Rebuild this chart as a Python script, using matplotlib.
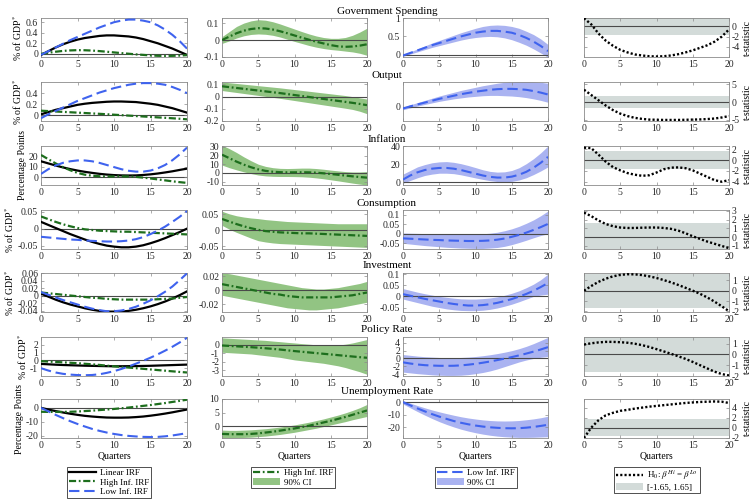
import matplotlib
matplotlib.use("Agg")
import matplotlib.pyplot as plt
from matplotlib.lines import Line2D
from matplotlib.patches import Patch
import numpy as np

plt.rcParams['font.family'] = ['Liberation Serif', 'DejaVu Serif']
plt.rcParams['mathtext.fontset'] = 'stix'
plt.rcParams['axes.unicode_minus'] = False

quarters = list(range(21))
titles = ["Government Spending", "Output", "Inflation", "Consumption",
          "Investment", "Policy Rate", "Unemployment Rate"]
ylabels = ["% of GDP$^*$", "% of GDP$^*$", "Percentage Points", "% of GDP$^*$",
           "% of GDP$^*$", "% of GDP$^*$", "Percentage Points"]

# ---- Government spending
gov_lin = [-0.02, 0.05, 0.12, 0.18, 0.23, 0.27, 0.30, 0.32, 0.34, 0.35, 0.35, 0.34, 0.33, 0.31, 0.28, 0.24, 0.20, 0.15, 0.10, 0.04, -0.02]
gov_hi = [0.00, 0.02, 0.04, 0.055, 0.065, 0.07, 0.068, 0.062, 0.052, 0.04, 0.027, 0.014, 0.002, -0.01, -0.02, -0.03, -0.037, -0.04, -0.038, -0.033, -0.025]
gov_hi_lo = [-0.02, -0.005, 0.012, 0.025, 0.033, 0.036, 0.034, 0.028, 0.018, 0.005, -0.008, -0.02, -0.032, -0.042, -0.05, -0.056, -0.06, -0.065, -0.07, -0.078, -0.09]
gov_hi_up = [0.02, 0.05, 0.08, 0.1, 0.113, 0.12, 0.117, 0.108, 0.095, 0.08, 0.065, 0.05, 0.036, 0.024, 0.015, 0.01, 0.01, 0.015, 0.028, 0.047, 0.07]
gov_lo = [-0.02, 0.05, 0.12, 0.19, 0.26, 0.32, 0.38, 0.44, 0.5, 0.55, 0.6, 0.63, 0.65, 0.65, 0.63, 0.6, 0.54, 0.46, 0.36, 0.24, 0.1]
gov_lo_lo = [-0.04, 0.02, 0.08, 0.14, 0.2, 0.25, 0.3, 0.35, 0.4, 0.44, 0.47, 0.49, 0.5, 0.49, 0.46, 0.41, 0.34, 0.26, 0.16, 0.05, -0.07]
gov_lo_up = [0.0, 0.08, 0.16, 0.24, 0.32, 0.39, 0.46, 0.53, 0.6, 0.66, 0.72, 0.77, 0.8, 0.81, 0.8, 0.77, 0.72, 0.64, 0.55, 0.43, 0.28]
gov_t = [1.6, 0.4, -1.4, -2.8, -3.8, -4.6, -5.1, -5.5, -5.7, -5.85, -5.9, -5.85, -5.7, -5.45, -5.1, -4.7, -4.2, -3.7, -3.0, -2.0, -0.6]

# ---- Output
out_lin = [0.02, 0.06, 0.1, 0.13, 0.16, 0.19, 0.21, 0.225, 0.235, 0.245, 0.25, 0.25, 0.245, 0.24, 0.225, 0.21, 0.19, 0.16, 0.13, 0.09, 0.05]
out_hi = [0.085, 0.078, 0.071, 0.064, 0.057, 0.05, 0.043, 0.036, 0.029, 0.021, 0.013, 0.005, -0.003, -0.011, -0.019, -0.027, -0.035, -0.043, -0.051, -0.06, -0.07]
out_hi_lo = [0.05, 0.042, 0.034, 0.026, 0.018, 0.01, 0.002, -0.006, -0.014, -0.023, -0.032, -0.041, -0.05, -0.059, -0.068, -0.077, -0.086, -0.095, -0.105, -0.12, -0.14]
out_hi_up = [0.12, 0.114, 0.108, 0.102, 0.096, 0.09, 0.084, 0.078, 0.072, 0.065, 0.058, 0.051, 0.044, 0.037, 0.03, 0.023, 0.016, 0.009, 0.0, -0.01, -0.02]
out_lo = [-0.05, 0.02, 0.08, 0.14, 0.2, 0.26, 0.31, 0.36, 0.41, 0.45, 0.49, 0.52, 0.55, 0.57, 0.58, 0.58, 0.57, 0.55, 0.51, 0.46, 0.4]
out_lo_lo = [-0.09, -0.03, 0.03, 0.08, 0.13, 0.18, 0.22, 0.26, 0.29, 0.32, 0.34, 0.36, 0.37, 0.37, 0.36, 0.35, 0.33, 0.3, 0.26, 0.21, 0.15]
out_lo_up = [-0.01, 0.07, 0.14, 0.21, 0.28, 0.35, 0.41, 0.47, 0.53, 0.58, 0.63, 0.68, 0.72, 0.76, 0.79, 0.81, 0.82, 0.82, 0.81, 0.79, 0.76]
out_t = [3.5, 2.0, 0.5, -1.0, -2.3, -3.3, -4.0, -4.5, -4.8, -5.0, -5.05, -5.1, -5.1, -5.1, -5.05, -5.0, -4.95, -4.85, -4.7, -4.4, -4.0]

# ---- Inflation
inf_lin = [15, 13, 11, 9.2, 7.6, 6.2, 5.0, 4.0, 3.1, 2.4, 1.9, 1.6, 1.5, 1.6, 2.0, 2.6, 3.4, 4.4, 5.5, 6.8, 8.0]
inf_hi = [21, 17, 13, 9.5, 6.5, 4.0, 2.3, 1.3, 0.8, 0.6, 0.6, 0.7, 0.6, 0.2, -0.5, -1.3, -2.2, -3.1, -4.0, -4.8, -5.5]
inf_hi_lo = [9, 6, 3.5, 1.2, -0.8, -2.5, -3.5, -4, -4.2, -4.2, -4.3, -4.5, -5, -5.8, -6.8, -8, -9.2, -10.5, -11.8, -13, -14]
inf_hi_up = [32, 28, 23.5, 18.5, 14, 10, 7.5, 6, 5.2, 5, 5.2, 5.5, 5.5, 5, 4.2, 3.2, 2.3, 1.5, 1.0, 1.0, 1.5]
inf_lo = [3, 7.5, 11, 13.5, 15, 15.8, 15.8, 15, 13.5, 11.5, 9.5, 7.5, 6, 5.2, 5.2, 6.2, 8.3, 11.5, 16, 21.5, 28]
inf_lo_lo = [-1, 2, 5, 7.5, 9, 10, 10, 9.5, 8.2, 6.5, 4.8, 3.2, 1.8, 0.8, 0.5, 1.0, 2.5, 5, 8.5, 12.5, 17]
inf_lo_up = [9, 13, 17, 19.5, 21.5, 22.5, 22.8, 22, 20.5, 18.5, 16.2, 13.8, 12, 11.2, 11.5, 13, 16, 20.5, 26, 32.5, 40]
inf_t = [2.3, 2.2, 1.0, -0.3, -1.3, -1.9, -2.4, -2.7, -2.9, -2.8, -2.3, -1.7, -1.4, -1.35, -1.5, -1.9, -2.5, -3.1, -3.7, -4.0, -3.7]

# ---- Consumption
con_lin = [0.02, 0.011, 0.002, -0.007, -0.016, -0.024, -0.032, -0.039, -0.045, -0.05, -0.053, -0.055, -0.055, -0.053, -0.049, -0.043, -0.036, -0.028, -0.019, -0.01, 0.0]
con_hi = [0.036, 0.028, 0.02, 0.013, 0.007, 0.002, -0.002, -0.004, -0.006, -0.007, -0.008, -0.009, -0.009, -0.01, -0.011, -0.012, -0.013, -0.014, -0.015, -0.016, -0.017]
con_hi_lo = [0.016, 0.004, -0.006, -0.015, -0.024, -0.032, -0.036, -0.039, -0.041, -0.042, -0.043, -0.044, -0.045, -0.046, -0.047, -0.048, -0.049, -0.05, -0.051, -0.052, -0.053]
con_hi_up = [0.06, 0.052, 0.046, 0.042, 0.039, 0.037, 0.034, 0.032, 0.03, 0.028, 0.027, 0.026, 0.025, 0.024, 0.023, 0.022, 0.021, 0.021, 0.021, 0.021, 0.021]
con_lo = [-0.024, -0.026, -0.028, -0.03, -0.032, -0.033, -0.035, -0.036, -0.037, -0.038, -0.038, -0.037, -0.035, -0.031, -0.025, -0.016, -0.006, 0.006, 0.02, 0.035, 0.052]
con_lo_lo = [-0.05, -0.054, -0.058, -0.062, -0.065, -0.068, -0.071, -0.073, -0.075, -0.076, -0.077, -0.077, -0.075, -0.072, -0.066, -0.057, -0.046, -0.034, -0.021, -0.009, 0.0]
con_lo_up = [0.004, 0.003, 0.002, 0.001, 0.0, -0.001, -0.002, -0.002, -0.002, -0.002, -0.001, 0.0, 0.003, 0.008, 0.016, 0.026, 0.039, 0.055, 0.073, 0.095, 0.12]
con_t = [2.8, 2.4, 1.9, 1.5, 1.25, 1.1, 1.05, 1.05, 1.08, 1.1, 1.1, 1.05, 0.95, 0.75, 0.45, 0.1, -0.2, -0.5, -0.75, -1.0, -1.25]

# ---- Investment
inv_lin = [0.006, -0.002, -0.01, -0.017, -0.023, -0.028, -0.033, -0.037, -0.04, -0.042, -0.042, -0.042, -0.04, -0.037, -0.033, -0.028, -0.022, -0.015, -0.007, 0.002, 0.012]
inv_hi = [0.009, 0.007, 0.005, 0.003, 0.001, -0.001, -0.003, -0.005, -0.006, -0.008, -0.009, -0.01, -0.01, -0.01, -0.01, -0.01, -0.009, -0.008, -0.007, -0.005, -0.003]
inv_hi_lo = [-0.007, -0.009, -0.011, -0.013, -0.015, -0.017, -0.019, -0.021, -0.023, -0.025, -0.026, -0.027, -0.028, -0.028, -0.027, -0.026, -0.025, -0.023, -0.021, -0.019, -0.017]
inv_hi_up = [0.025, 0.024, 0.022, 0.02, 0.018, 0.016, 0.014, 0.012, 0.01, 0.008, 0.006, 0.004, 0.003, 0.002, 0.002, 0.003, 0.004, 0.006, 0.008, 0.01, 0.013]
inv_lo = [0.01, 0.003, -0.004, -0.011, -0.017, -0.023, -0.029, -0.034, -0.038, -0.041, -0.041, -0.039, -0.035, -0.029, -0.021, -0.012, -0.001, 0.011, 0.025, 0.042, 0.06]
inv_lo_lo = [-0.012, -0.02, -0.028, -0.036, -0.044, -0.05, -0.056, -0.06, -0.063, -0.064, -0.064, -0.062, -0.058, -0.052, -0.044, -0.035, -0.024, -0.012, 0.0, 0.006, 0.01]
inv_lo_up = [0.035, 0.027, 0.019, 0.012, 0.006, 0.0, -0.004, -0.008, -0.011, -0.012, -0.012, -0.01, -0.007, -0.002, 0.005, 0.014, 0.025, 0.039, 0.055, 0.075, 0.1]
inv_t = [0.0, 0.45, 0.85, 1.15, 1.38, 1.52, 1.58, 1.57, 1.5, 1.38, 1.22, 1.02, 0.8, 0.55, 0.28, 0.0, -0.3, -0.65, -1.05, -1.5, -1.97]

# ---- Policy rate
pol_lin = [-0.45, -0.5, -0.55, -0.59, -0.62, -0.65, -0.68, -0.7, -0.72, -0.74, -0.75, -0.75, -0.74, -0.73, -0.71, -0.69, -0.66, -0.63, -0.6, -0.57, -0.54]
pol_hi = [-0.1, -0.15, -0.2, -0.25, -0.3, -0.36, -0.43, -0.5, -0.58, -0.67, -0.76, -0.84, -0.92, -1.0, -1.08, -1.16, -1.24, -1.32, -1.4, -1.48, -1.55]
pol_hi_lo = [-0.9, -0.95, -1.0, -1.05, -1.1, -1.2, -1.3, -1.4, -1.5, -1.65, -1.8, -1.9, -2.0, -2.1, -2.2, -2.35, -2.5, -2.7, -2.95, -3.2, -3.5]
pol_hi_up = [0.8, 0.75, 0.7, 0.65, 0.6, 0.55, 0.5, 0.42, 0.35, 0.27, 0.2, 0.12, 0.05, -0.02, -0.07, -0.08, -0.05, 0.05, 0.2, 0.4, 0.6]
pol_lo = [-1.0, -1.3, -1.55, -1.72, -1.82, -1.88, -1.9, -1.87, -1.78, -1.6, -1.38, -1.1, -0.78, -0.42, -0.05, 0.35, 0.78, 1.25, 1.75, 2.3, 2.9]
pol_lo_lo = [-3.5, -3.7, -3.9, -4.05, -4.2, -4.3, -4.35, -4.35, -4.3, -4.15, -3.9, -3.6, -3.2, -2.7, -2.1, -1.5, -0.9, -0.4, 0.0, 0.3, 0.5]
pol_lo_up = [1.0, 0.8, 0.6, 0.45, 0.35, 0.25, 0.2, 0.2, 0.25, 0.35, 0.5, 0.7, 0.95, 1.25, 1.6, 2.0, 2.5, 3.1, 3.8, 4.6, 5.4]
pol_t = [0.9, 1.02, 1.1, 1.15, 1.15, 1.12, 1.07, 0.98, 0.85, 0.68, 0.48, 0.27, 0.05, -0.18, -0.42, -0.7, -1.0, -1.3, -1.6, -1.82, -1.95]

# ---- Unemployment rate
une_lin = [0, -1.2, -2.3, -3.3, -4.2, -5.0, -5.7, -6.2, -6.6, -6.9, -7.0, -7.0, -6.9, -6.6, -6.2, -5.6, -4.9, -4.1, -3.2, -2.2, -1.2]
une_hi = [-2.8, -2.9, -2.9, -2.9, -2.8, -2.6, -2.3, -2.0, -1.6, -1.2, -0.8, -0.3, 0.2, 0.8, 1.4, 2.0, 2.7, 3.4, 4.2, 5.0, 5.8]
une_hi_lo = [-4.3, -4.3, -4.2, -4.1, -4.0, -3.8, -3.6, -3.3, -3.0, -2.6, -2.2, -1.7, -1.2, -0.7, -0.1, 0.5, 1.1, 1.7, 2.4, 3.0, 3.6]
une_hi_up = [-1.4, -1.5, -1.5, -1.4, -1.3, -1.1, -0.9, -0.6, -0.3, 0.1, 0.5, 1.0, 1.5, 2.1, 2.7, 3.4, 4.1, 4.9, 5.8, 6.8, 8.0]
une_lo = [0, -2.5, -5, -7.3, -9.5, -11.5, -13.3, -15, -16.4, -17.6, -18.6, -19.4, -20, -20.4, -20.7, -20.8, -20.7, -20.3, -19.7, -18.9, -18]
une_lo_lo = [-1.5, -4.5, -7.5, -10.3, -13, -15.5, -17.7, -19.7, -21.5, -23, -24.3, -25.4, -26.3, -27, -27.5, -27.8, -28, -28, -27.9, -27.7, -27.5]
une_lo_up = [1.2, -0.8, -2.7, -4.5, -6.2, -7.7, -9.1, -10.4, -11.6, -12.6, -13.4, -14.1, -14.6, -14.9, -15, -14.9, -14.6, -14, -13.3, -12.4, -11.2]
une_t = [-2.1, 0.0, 1.5, 2.5, 3.0, 3.4, 3.6, 3.85, 4.05, 4.25, 4.4, 4.55, 4.7, 4.85, 5.0, 5.1, 5.2, 5.25, 5.3, 5.25, 5.0]

rows = [
    (gov_lin, gov_hi, gov_hi_lo, gov_hi_up, gov_lo, gov_lo_lo, gov_lo_up, gov_t),
    (out_lin, out_hi, out_hi_lo, out_hi_up, out_lo, out_lo_lo, out_lo_up, out_t),
    (inf_lin, inf_hi, inf_hi_lo, inf_hi_up, inf_lo, inf_lo_lo, inf_lo_up, inf_t),
    (con_lin, con_hi, con_hi_lo, con_hi_up, con_lo, con_lo_lo, con_lo_up, con_t),
    (inv_lin, inv_hi, inv_hi_lo, inv_hi_up, inv_lo, inv_lo_lo, inv_lo_up, inv_t),
    (pol_lin, pol_hi, pol_hi_lo, pol_hi_up, pol_lo, pol_lo_lo, pol_lo_up, pol_t),
    (une_lin, une_hi, une_hi_lo, une_hi_up, une_lo, une_lo_lo, une_lo_up, une_t),
]

# axis limits / ticks per panel [row][col]
ylims = [
    [(-0.06, 0.68), (-0.1, 0.13), (-0.06, 1.0), (-6.0, 1.65)],
    [(-0.1, 0.6), (-0.2, 0.12), (-0.45, 0.8), (-5.4, 5.7)],
    [(-7.5, 29.5), (-14, 31), (-3, 40), (-4.6, 2.6)],
    [(-0.06, 0.055), (-0.058, 0.064), (-0.08, 0.125), (-1.35, 3.1)],
    [(-0.043, 0.061), (-0.031, 0.025), (-0.07, 0.105), (-2.05, 1.7)],
    [(-2.0, 3.0), (-3.7, 0.9), (-4.5, 5.5), (-2.0, 1.6)],
    [(-21.5, 6.3), (-4.3, 10), (-28.5, 2.5), (-2.1, 5.8)],
]
yticks = [
    [[0, 0.2, 0.4, 0.6], [-0.1, 0, 0.1], [0, 0.5, 1], [-4, -2, 0]],
    [[0, 0.2, 0.4], [-0.2, -0.1, 0, 0.1], [0], [-5, 0, 5]],
    [[0, 10, 20], [-10, 0, 10, 20, 30], [0, 20, 40], [-4, -2, 0, 2]],
    [[-0.05, 0, 0.05], [-0.05, 0, 0.05], [-0.05, 0, 0.05, 0.1], [-1, 0, 1, 2, 3]],
    [[-0.04, -0.02, 0, 0.02, 0.04, 0.06], [-0.02, 0, 0.02], [-0.05, 0, 0.05, 0.1], [-2, -1, 0, 1]],
    [[-1, 0, 1, 2], [-3, -2, -1, 0], [-4, -2, 0, 2, 4], [-2, -1, 0, 1]],
    [[-20, -10, 0], [0, 5, 10], [-20, -10, 0], [-2, 0, 2, 4]],
]

BLACK = 'black'
GREEN = '#1d6e1d'
BLUE = '#3f63ee'
GFILL = '#92c483'
BFILL = '#aab3f1'
GRAY = '#d3dbd9'
SPINE = '#8a8a8a'

W, H = 751, 499
fig = plt.figure(figsize=(W / 100, H / 100), dpi=100)

col_x = [(41, 187), (222, 367), (403, 548), (584, 729)]
row_top = [18, 82, 146, 210, 273, 337, 399]
row_h = 39

lin_kw = dict(color=BLACK, lw=1.6, ls='-')
hi_kw = dict(color=GREEN, lw=1.6, ls=(0, (3.2, 1.2, 0.8, 1.2)))
lo_kw = dict(color=BLUE, lw=1.5, ls=(0, (5, 2.3)))
t_kw = dict(color=BLACK, lw=1.7, ls=(0, (0.9, 0.9)), dash_capstyle='butt')


def fmt(v):
    return '%g' % v


for r, data in enumerate(rows):
    lin, hi, hi_l, hi_u, lo, lo_l, lo_u, tst = data
    for c in range(4):
        x0, x1 = col_x[c]
        top = row_top[r]
        ax = fig.add_axes([x0 / W, 1 - (top + row_h) / H, (x1 - x0) / W, row_h / H])
        if c == 0:
            ax.axhline(0, color='#4a4a4a', lw=0.8, zorder=1)
            ax.plot(quarters, lin, **lin_kw, zorder=3)
            ax.plot(quarters, hi, **hi_kw, zorder=3)
            ax.plot(quarters, lo, **lo_kw, zorder=3)
            ax.set_ylabel(ylabels[r], fontsize=7, labelpad=1)
        elif c == 1:
            ax.fill_between(quarters, hi_l, hi_u, color=GFILL, lw=0, zorder=1)
            ax.axhline(0, color='#4a4a4a', lw=0.8, zorder=2)
            ax.plot(quarters, hi, **hi_kw, zorder=3)
        elif c == 2:
            ax.fill_between(quarters, lo_l, lo_u, color=BFILL, lw=0, zorder=1)
            ax.axhline(0, color='#4a4a4a', lw=0.8, zorder=2)
            ax.plot(quarters, lo, **lo_kw, zorder=3)
        else:
            ax.axhspan(-1.65, 1.65, color=GRAY, lw=0, zorder=1)
            ax.axhline(0, color='#4a4a4a', lw=0.8, zorder=2)
            ax.plot(quarters, tst, **t_kw, zorder=3)
            ax.yaxis.tick_right()
            ax.yaxis.set_label_position('right')
            ax.set_ylabel('t-statistic', fontsize=7, labelpad=2)
        ax.set_xlim(0, 20)
        ax.set_ylim(*ylims[r][c])
        ax.set_xticks([0, 5, 10, 15, 20])
        ax.set_yticks(yticks[r][c])
        ax.set_yticklabels([fmt(v) for v in yticks[r][c]])
        ax.tick_params(direction='in', length=2, width=0.5, labelsize=7,
                       top=True, right=True, left=True, bottom=True,
                       colors='#262626', pad=2)
        ax.tick_params(axis='both', color=SPINE)
        for sp in ax.spines.values():
            sp.set_color(SPINE)
            sp.set_linewidth(0.6)
        if r == 6:
            ax.set_xlabel('Quarters', fontsize=7, labelpad=1)

# row titles
title_y = [11, 75, 139, 203, 266, 329, 392]
for t, y in zip(titles, title_y):
    fig.text(387 / W, 1 - y / H, t, ha='center', va='center', fontsize=8)

# legends
leg_kw = dict(fontsize=6.5, frameon=True, fancybox=False, edgecolor='black',
              handlelength=3.0, handletextpad=0.4, borderpad=0.2,
              labelspacing=0.12, borderaxespad=0)

def place_legend(handles, labels, cx):
    lg = fig.legend(handles, labels, loc='upper center',
                    bbox_to_anchor=(cx / W, 1 - 467 / H), **leg_kw)
    lg.get_frame().set_linewidth(0.6)
    return lg

place_legend([Line2D([], [], **lin_kw), Line2D([], [], **hi_kw), Line2D([], [], **lo_kw)],
             ['Linear IRF', 'High Inf. IRF', 'Low Inf. IRF'], 109)
place_legend([Line2D([], [], **hi_kw), Patch(facecolor=GFILL, lw=0)],
             ['High Inf. IRF', '90% CI'], 293)
place_legend([Line2D([], [], **lo_kw), Patch(facecolor=BFILL, lw=0)],
             ['Low Inf. IRF', '90% CI'], 476)
place_legend([Line2D([], [], **t_kw), Patch(facecolor=GRAY, lw=0)],
             [r'H$_0$: $\beta^{Hi}$ = $\beta^{Lo}$', '[-1.65, 1.65]'], 657)

fig.savefig('out.png', dpi=100)
